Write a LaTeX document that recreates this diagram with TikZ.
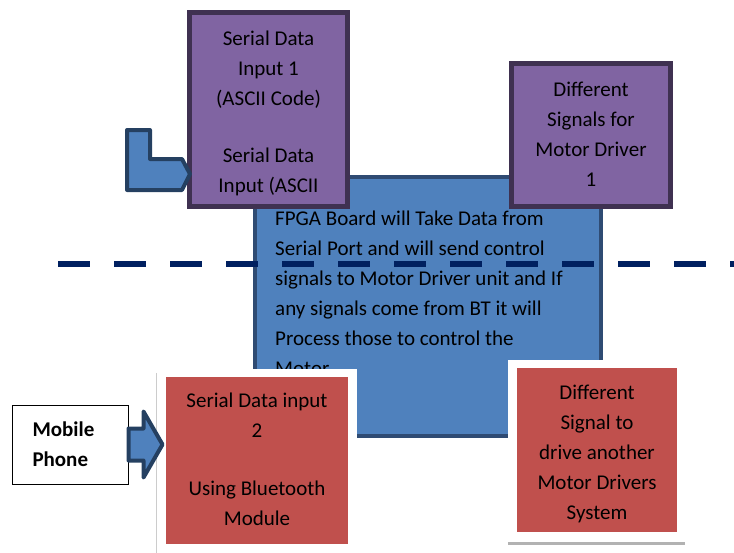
\documentclass[tikz,border=0pt]{standalone}
\usepackage{fontspec}
\setmainfont{Carlito}
\usetikzlibrary{positioning,calc}

\definecolor{purpfill}{HTML}{8064A2}
\definecolor{purpline}{HTML}{3F3151}
\definecolor{bluefill}{HTML}{4F81BD}
\definecolor{blueline}{HTML}{2F4B73}
\definecolor{arrline}{HTML}{254061}
\definecolor{redfill}{HTML}{C0504D}
\definecolor{navy}{HTML}{002060}

\begin{document}
\begin{tikzpicture}[x=1pt, y=-1pt, font=\fontsize{21}{30}\selectfont,
  pbox/.style={rectangle, draw=purpline, fill=purpfill, line width=5pt, inner sep=0pt},
  bbox/.style={rectangle, draw=blueline, fill=bluefill, line width=4pt, inner sep=0pt},
  rbox/.style={rectangle, fill=redfill, inner sep=0pt},
  frame/.style={rectangle, fill=white, inner sep=0pt},
  txt/.style={align=center, inner sep=0pt},
  arr/.style={draw=arrline, fill=bluefill, line width=4pt, line join=round}]
\useasboundingbox (0,0) rectangle (734,552);

% main board
\node[bbox, minimum width=346, minimum height=259] (fpga) at (428,306.5) {};
\coordinate (dashL) at (58,264);
\coordinate (dashR) at (740,264);
\draw[navy, line width=6pt, dash pattern=on 32pt off 24pt] (dashL) -- (dashR);
\node[anchor=north west, align=left, inner sep=0pt] (fpgatxt) at ($(fpga.north west)+(22,36)$)
  {FPGA Board will Take Data from\\Serial Port and will send control\\signals to Motor Driver unit and If\\any signals come from BT it will\\Process those to control the\\Motor};

% upper boxes
\node[pbox, minimum width=158, minimum height=194] (serial1) at (268.5,109.5) {};
\node[txt] (serial1txt) at ($(serial1)+(0,4)$)
  {Serial Data\\Input 1\\(ASCII Code)\\[27pt]Serial Data\\Input (ASCII};
\node[pbox, minimum width=159, minimum height=143] (drv1) at (591,135) {};
\node[txt] (drv1txt) at ($(drv1)+(0,-1)$) {Different\\Signals for\\Motor Driver\\1};

% bent input arrow
\coordinate (ltip) at ($(serial1.south west)+(3,-35)$);
\draw[arr] (ltip) -- ++(-8,-15) -- ++(-32,0) -- ++(0,-29) -- ++(-23,0) -- ++(0,60) -- ++(55,0) -- cycle;

% lower boxes
\node[frame, minimum width=200, minimum height=189] (btframe) at (257,463.5) {};
\draw[gray!40, line width=1pt] ($(btframe.north west)+(0,4)$) -- (btframe.south west);
\node[rbox, minimum width=182, minimum height=167] (bt) at (257,460.5) {};
\node[txt] (bttxt) at ($(bt)+(0,-1)$) {Serial Data input\\2\\[28pt]Using Bluetooth\\Module};
\node[frame, minimum width=177, minimum height=183] (drvframe) at (596.5,451.5) {};
\draw[gray!60, line width=3pt] (drvframe.south west) -- (drvframe.south east);
\node[rbox, minimum width=160, minimum height=164] (drv2) at (597,450) {};
\node[txt] (drv2txt) at ($(drv2)+(0,4)$) {Different\\Signal to\\drive another\\Motor Drivers\\System};

% phone
\node[rectangle, draw=black, fill=white, line width=1pt, minimum width=116, minimum height=79,
  align=left, text width=75pt, inner xsep=0pt, font=\fontsize{21}{30}\selectfont\bfseries] (mobile) at (70,444.5) {Mobile\\Phone};
\draw[arr] ($(mobile.east)+(0,-16)$) -- ++(15,0) -- ++(0,-17) -- ++(19,33) -- ++(-19,33) -- ++(0,-17) -- ++(-15,0) -- cycle;
\end{tikzpicture}
\end{document}
